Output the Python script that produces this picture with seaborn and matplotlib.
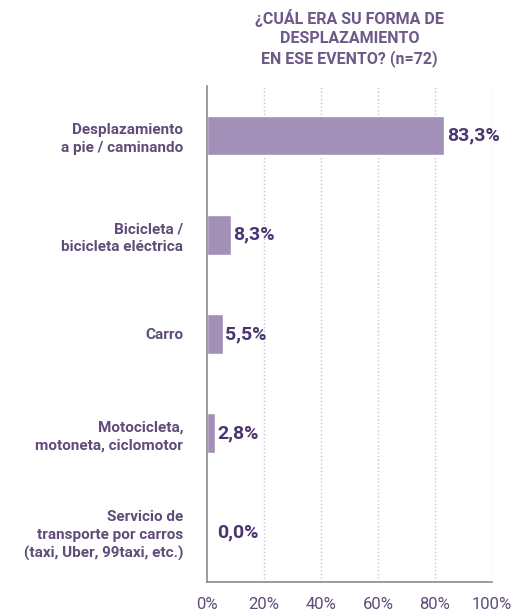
import numpy as np
import pandas as pd
import matplotlib
matplotlib.use('Agg')
import matplotlib.pyplot as plt
import seaborn as sns

# Data
categories = ['Desplazamiento\na pie / caminando',
              'Bicicleta /\nbicicleta eléctrica',
              'Carro',
              'Motocicleta,\nmotoneta, ciclomotor',
              'Servicio de\ntransporte por carros\n(taxi, Uber, 99taxi, etc.)']
values = [83.3, 8.3, 5.5, 2.8, 0.0]
value_labels = ['83,3%', '8,3%', '5,5%', '2,8%', '0,0%']
tick_values = [0, 20, 40, 60, 80, 100]
tick_labels = ['0%', '20%', '40%', '60%', '80%', '100%']

sns.set_style('white')
plt.rcParams['font.family'] = ['Roboto', 'DejaVu Sans']

bar_color = '#A290B8'
label_color = '#4B3570'
text_color = '#5F4C78'
axis_color = '#8A8A8A'

df = pd.DataFrame({'cat': categories, 'val': values})

fig = plt.figure(figsize=(5.12, 6.15), dpi=100)
ax = fig.add_axes([0.404, 0.054, 0.557, 0.806])

sns.barplot(data=df, x='val', y='cat', color=bar_color, width=0.4,
            saturation=1, ax=ax, orient='h')

ax.set_xlim(0, 100)
ax.set_ylim(len(categories) - 0.5, -0.5)
ax.set_xticks(tick_values)
ax.set_xticklabels(tick_labels, fontsize=12, color=text_color)
ax.set_yticks(range(len(categories)))
ax.set_yticklabels(categories, fontsize=11, fontweight='bold', color=text_color,
                   linespacing=1.35)
ax.tick_params(axis='y', length=0, pad=17)
ax.tick_params(axis='x', length=4, color=axis_color, pad=7)

# small separator ticks between categories
ax.set_yticks(np.arange(0.5, len(categories) - 1, 1), minor=True)
ax.tick_params(axis='y', which='minor', length=5, color=axis_color, width=1)

ax.set_xlabel('')
ax.set_ylabel('')

for x in tick_values[1:]:
    ax.axvline(x, color='#C8C4D8', linestyle=':', linewidth=1, zorder=0)

for s in ['top', 'right']:
    ax.spines[s].set_visible(False)
for s in ['left', 'bottom']:
    ax.spines[s].set_color(axis_color)
    ax.spines[s].set_linewidth(1.2)

for i, (v, lab) in enumerate(zip(values, value_labels)):
    ax.text(v + 1.0 if v > 0 else 3.5, i, lab, va='center', ha='left',
            fontsize=14, fontweight='bold', color=label_color)

fig.text(0.683, 0.985, '¿CUÁL ERA SU FORMA DE\nDESPLAZAMIENTO\nEN ESE EVENTO? (n=72)',
         ha='center', va='top', fontsize=11.5, fontweight='bold',
         color='#6E5A88', linespacing=1.3)

fig.savefig('out.png', dpi=100)
